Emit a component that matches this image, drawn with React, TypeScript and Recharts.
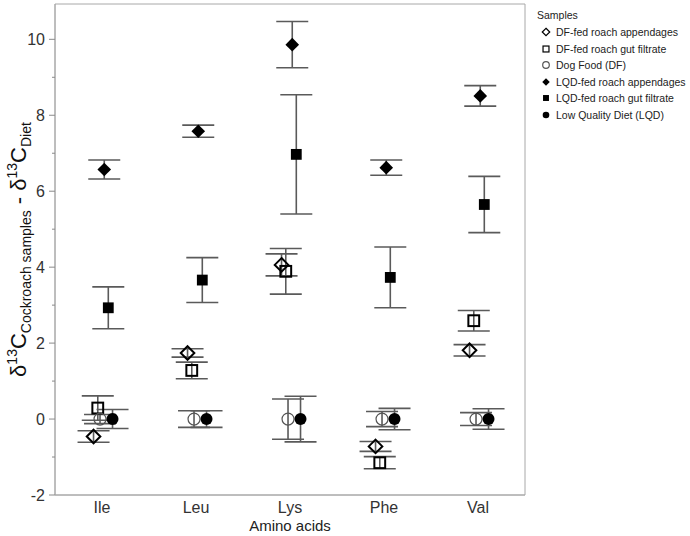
import React from "react";
import { ErrorBar, ReferenceArea, Scatter, ScatterChart, XAxis, YAxis } from "recharts";

const FONT = "'Liberation Sans', Arial, sans-serif";

const categories = ["Ile", "Leu", "Lys", "Phe", "Val"];
const yTicks = [-2, -1, 0, 1, 2, 3, 4, 5, 6, 7, 8, 9, 10];
const Y_MAX = 10.93;

// means and error half-widths
const dfAppendages = [-0.46, 1.74, 4.06, -0.72, 1.81];
const dfAppendagesErr = [0.15, 0.11, 0.29, 0.13, 0.15];
const dfGutFiltrate = [0.29, 1.28, 3.89, -1.15, 2.59];
const dfGutFiltrateErr = [0.32, 0.22, 0.6, 0.16, 0.27];
const dogFood = [0, 0, 0, 0, 0];
const dogFoodErr = [0.12, 0.22, 0.53, 0.2, 0.17];
const lqdAppendages = [6.57, 7.58, 9.86, 6.62, 8.51];
const lqdAppendagesErr = [0.25, 0.16, 0.61, 0.2, 0.27];
const lqdGutFiltrate = [2.93, 3.66, 6.97, 3.73, 5.65];
const lqdGutFiltrateErr = [0.55, 0.59, 1.57, 0.8, 0.74];
const lowQualityDiet = [0, 0, 0, 0, 0];
const lowQualityDietErr = [0.25, 0.22, 0.6, 0.28, 0.27];

type Kind = "diamondOpen" | "squareOpen" | "circleOpen" | "diamond" | "square" | "circle";

// dodge offsets are in category units (1 = one band)
const series: { name: string; values: number[]; errs: number[]; kind: Kind; dodge: number }[] = [
	{ name: "DF-fed roach appendages", values: dfAppendages, errs: dfAppendagesErr, kind: "diamondOpen", dodge: -0.09 },
	{ name: "DF-fed roach gut filtrate", values: dfGutFiltrate, errs: dfGutFiltrateErr, kind: "squareOpen", dodge: -0.045 },
	{ name: "Dog Food (DF)", values: dogFood, errs: dogFoodErr, kind: "circleOpen", dodge: -0.021 },
	{ name: "LQD-fed roach appendages", values: lqdAppendages, errs: lqdAppendagesErr, kind: "diamond", dodge: 0.024 },
	{ name: "LQD-fed roach gut filtrate", values: lqdGutFiltrate, errs: lqdGutFiltrateErr, kind: "square", dodge: 0.067 },
	{ name: "Low Quality Diet (LQD)", values: lowQualityDiet, errs: lowQualityDietErr, kind: "circle", dodge: 0.112 },
];

function buildPoints(values: number[], errs: number[], dodge: number) {
	return values.map((v, i) => ({ x: i + 1 + dodge, y: v, err: errs[i] }));
}

function Glyph({ kind, cx, cy, s = 1 }: { kind: Kind; cx: number; cy: number; s?: number }) {
	const d = 6.8 * s;
	const h = 5.4 * s;
	const r = 6 * s;
	switch (kind) {
		case "diamondOpen":
			return <polygon points={`${cx},${cy - d} ${cx + d},${cy} ${cx},${cy + d} ${cx - d},${cy}`} fill="none" stroke="#000" strokeWidth={2 * Math.max(s, 0.6)} />;
		case "squareOpen":
			return <rect x={cx - h} y={cy - h} width={2 * h} height={2 * h} fill="none" stroke="#000" strokeWidth={2 * Math.max(s, 0.6)} />;
		case "circleOpen":
			return <circle cx={cx} cy={cy} r={r} fill="none" stroke="#555" strokeWidth={1.2} />;
		case "diamond":
			return <polygon points={`${cx},${cy - d} ${cx + d},${cy} ${cx},${cy + d} ${cx - d},${cy}`} fill="#000" />;
		case "square":
			return <rect x={cx - h} y={cy - h} width={2 * h} height={2 * h} fill="#000" />;
		default:
			return <circle cx={cx} cy={cy} r={r} fill="#000" />;
	}
}

function YTick(props: any) {
	const { x, y, payload } = props;
	const v = payload.value;
	const even = v % 2 === 0;
	return (
		<g>
			<line x1={x - (even ? 6 : 3)} x2={x} y1={y} y2={y} stroke="#8a8a8a" strokeWidth={1} />
			{even && (
				<text x={x - 10} y={y} dy={5.5} textAnchor="end" fontSize={16} fill="#333" fontFamily={FONT}>
					{v}
				</text>
			)}
		</g>
	);
}

function YTitle(props: any) {
	const vb = props.viewBox || { y: 4, height: 491 };
	const cy = vb.y + vb.height / 2;
	return (
		<text transform={`translate(26,${cy}) rotate(-90)`} textAnchor="middle" fontFamily={FONT} fill="#111">
			<tspan fontSize={22}>δ</tspan>
			<tspan fontSize={14} dy={-9}>13</tspan>
			<tspan fontSize={22} dy={9}>C</tspan>
			<tspan fontSize={14} dy={5}>Cockroach samples</tspan>
			<tspan fontSize={22} dy={-5}> - δ</tspan>
			<tspan fontSize={14} dy={-9}>13</tspan>
			<tspan fontSize={22} dy={9}>C</tspan>
			<tspan fontSize={14} dy={5}>Diet</tspan>
		</text>
	);
}

function XTitle(props: any) {
	const vb = props.viewBox || { x: 55, width: 470 };
	return (
		<text x={vb.x + vb.width / 2} y={531} textAnchor="middle" fontSize={15} fill="#222" fontFamily={FONT}>
			Amino acids
		</text>
	);
}

function LegendBox() {
	return (
		<div style={{ position: "absolute", left: 537, top: 6, fontSize: 10.5, fontFamily: FONT, color: "#222" }}>
			<div style={{ height: 18, lineHeight: "18px" }}>Samples</div>
			{series.map((s) => (
				<div key={s.name} style={{ display: "flex", alignItems: "center", height: 16.5 }}>
					<svg width={19} height={12} style={{ display: "block", flex: "none" }}>
						<Glyph kind={s.kind} cx={9} cy={6} s={0.55} />
					</svg>
					<span style={{ whiteSpace: "nowrap" }}>{s.name}</span>
				</div>
			))}
		</div>
	);
}

export default function App() {
	return (
		<div style={{ position: "absolute", left: 0, top: 0, width: 690, height: 536, background: "#fff", overflow: "hidden" }}>
			<ScatterChart width={690} height={536} margin={{ top: 4, right: 165, bottom: 0, left: 0 }}>
				<ReferenceArea x1={0.5} x2={5.5} y1={-2} y2={Y_MAX} fill="none" stroke="#a8a8a8" strokeWidth={1} ifOverflow="visible" />
				<XAxis
					type="number"
					dataKey="x"
					domain={[0.5, 5.5]}
					ticks={[1, 2, 3, 4, 5]}
					interval={0}
					allowDataOverflow
					tickFormatter={(v: number) => categories[Math.round(v) - 1]}
					height={41}
					tickLine={false}
					tickSize={0}
					tickMargin={7}
					axisLine={{ stroke: "#a8a8a8" }}
					tick={{ fontSize: 16, fill: "#333", fontFamily: FONT }}
					label={<XTitle />}
				/>
				<YAxis
					type="number"
					dataKey="y"
					domain={[-2, Y_MAX]}
					ticks={yTicks}
					interval={0}
					allowDataOverflow
					width={55}
					tickLine={false}
					tickSize={0}
					tickMargin={0}
					axisLine={{ stroke: "#a8a8a8" }}
					tick={<YTick />}
					label={<YTitle />}
				/>
				{series.map((s) => (
					<Scatter
						key={s.name}
						name={s.name}
						data={buildPoints(s.values, s.errs, s.dodge)}
						isAnimationActive={false}
						shape={(p: any) => <Glyph kind={s.kind} cx={p.cx} cy={p.cy} />}
					>
						<ErrorBar dataKey="err" direction="y" width={16} stroke="#5a5a5a" strokeWidth={1.6} isAnimationActive={false} />
					</Scatter>
				))}
			</ScatterChart>
			<LegendBox />
		</div>
	);
}
